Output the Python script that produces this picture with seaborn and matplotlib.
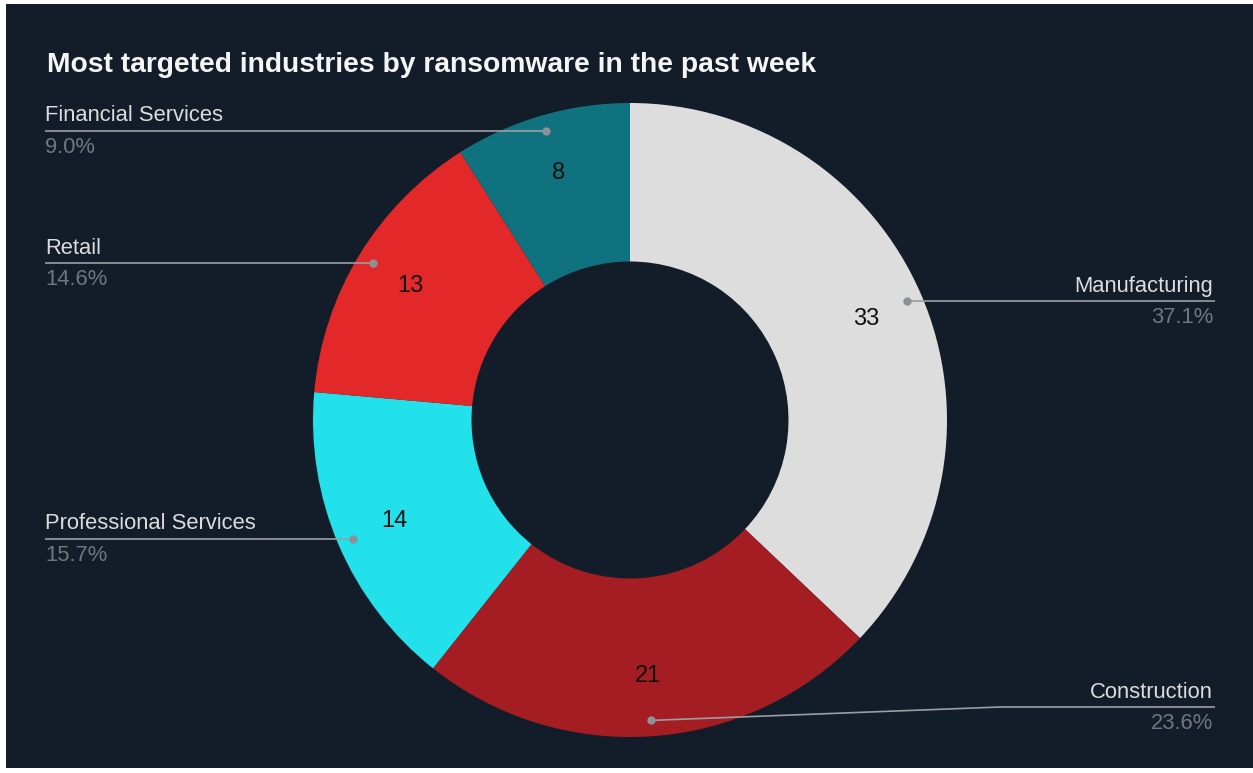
import matplotlib
matplotlib.use("Agg")
import matplotlib.pyplot as plt
from matplotlib.patches import Rectangle
import seaborn as sns
import numpy as np

# Ransomware victims per industry over the past week
industries = ["Manufacturing", "Construction", "Professional Services", "Retail", "Financial Services"]
attacks = [33, 21, 14, 13, 8]
slice_colors = ["#dddddd", "#a31d23", "#22e1ea", "#e3282a", "#10717f"]
title = "Most targeted industries by ransomware in the past week"

BG = "#121d29"
LABEL_COLOR = "#dcdcdc"
PCT_COLOR = "#70767d"
LEADER_COLOR = "#9a9ea3"

sns.set_theme(style="dark")
plt.rcParams["font.family"] = ["Liberation Sans", "DejaVu Sans"]

W, H = 1253, 773
fig = plt.figure(figsize=(W / 100, H / 100), dpi=100, facecolor="white")
fig.patches.append(Rectangle((6 / W, 5 / H), 1 - 6 / W, 1 - 9 / H,
                             transform=fig.transFigure, facecolor=BG,
                             edgecolor="none", zorder=-10))

# Axes in pixel-like units (y up) spanning the whole canvas
ax = fig.add_axes([0, 0, 1, 1])
ax.patch.set_visible(False)

total = sum(attacks)
R = 317
cx, cy = 630, H - 420

wedges, _, autotexts = ax.pie(
    attacks,
    colors=slice_colors,
    startangle=90,
    counterclock=False,
    radius=R,
    center=(cx, cy),
    wedgeprops=dict(width=R / 2, linewidth=0),
    autopct=lambda p: f"{p * total / 100:.0f}",
    pctdistance=0.81,
    textprops=dict(color="#111111", fontsize=17),
)

ax.set_xlim(0, W)
ax.set_ylim(0, H)
ax.set_aspect("equal")
ax.axis("off")

# Leader lines with category name above and share below
left_x, right_x = 45, 1215
min_line_y = H - 707
for w, name, val in zip(wedges, industries, attacks):
    mid = np.deg2rad((w.theta1 + w.theta2) / 2)
    dx, dy = cx + 0.95 * R * np.cos(mid), cy + 0.95 * R * np.sin(mid)
    line_y = max(dy, min_line_y)
    right = dx > cx
    end_x = right_x if right else left_x
    if abs(line_y - dy) > 1:
        bend_x = end_x - 215 if right else end_x + 215
        xs, ys = [dx, bend_x, end_x], [dy, line_y, line_y]
    else:
        xs, ys = [dx, end_x], [dy, dy]
    ax.plot(xs, ys, color=LEADER_COLOR, lw=1.2, solid_capstyle="butt", zorder=3)
    ax.plot([dx], [dy], "o", color="#8d9196", ms=6, mec="none", zorder=4)
    ha = "right" if right else "left"
    tx = end_x - 2 if right else end_x
    ax.text(tx, line_y + 9.5, name, ha=ha, va="baseline", fontsize=15.8, color=LABEL_COLOR)
    ax.text(tx, line_y - 22, f"{val / total * 100:.1f}%", ha=ha, va="baseline",
            fontsize=15.8, color=PCT_COLOR)

ax.text(47, H - 72, title, ha="left", va="baseline", fontsize=20.3,
        fontweight="bold", color="#f5f5f5")

fig.savefig("out.png", dpi=100, facecolor=fig.get_facecolor())
